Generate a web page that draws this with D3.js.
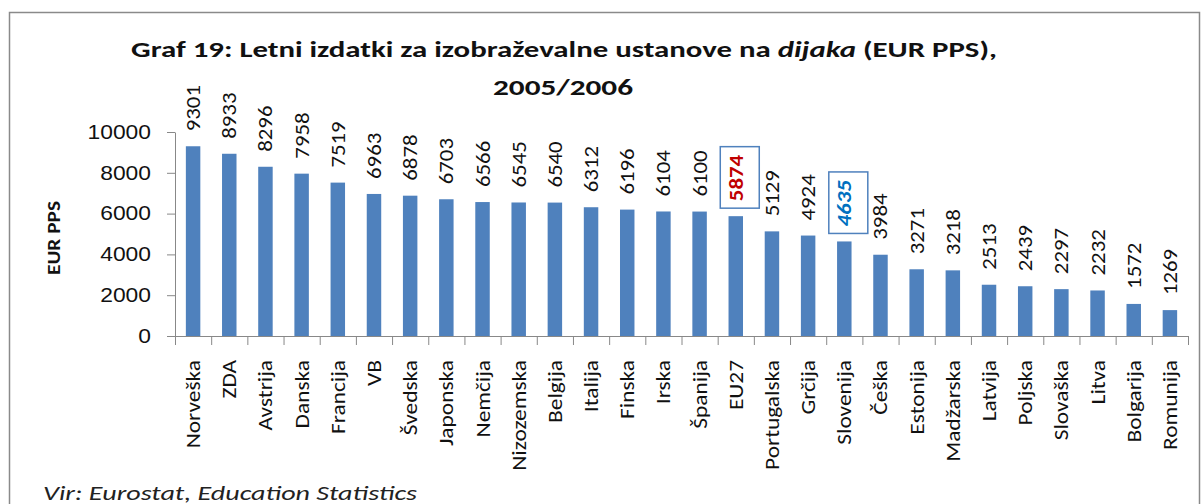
<!DOCTYPE html>
<html><head><meta charset="utf-8">
<script src="https://cdn.jsdelivr.net/npm/d3@7/dist/d3.min.js"></script>
<style>
body{margin:0;background:#fff;}
svg{display:block;font-family:Carlito, Calibri, Lato, "Open Sans", sans-serif;}
</style></head><body>
<svg id="c" width="1204" height="504"></svg>
<script>
const categories = ["Norveška","ZDA","Avstrija","Danska","Francija","VB","Švedska","Japonska","Nemčija","Nizozemska","Belgija","Italija","Finska","Irska","Španija","EU27","Portugalska","Grčija","Slovenija","Češka","Estonija","Madžarska","Latvija","Poljska","Slovaška","Litva","Bolgarija","Romunija"];
const values = [9301,8933,8296,7958,7519,6963,6878,6703,6566,6545,6540,6312,6196,6104,6100,5874,5129,4924,4635,3984,3271,3218,2513,2439,2297,2232,1572,1269];
const yTicks = [0,2000,4000,6000,8000,10000];
const highlights = {"EU27":{color:"#C00000",italic:false},"Slovenija":{color:"#0070C0",italic:true}};

const SX = 1.17; // horizontal stretch of the reference's lettering
const svg = d3.select("#c");
svg.append("rect").attr("x",9.5).attr("y",12.5).attr("width",1190).attr("height",520)
  .attr("fill","none").attr("stroke","#8a8a8a").attr("stroke-width",1.5);

const x0=175, x1=1188, yTop=132, yBot=336;
const x = d3.scaleBand().domain(categories).range([x0,x1]).paddingInner(0.6).paddingOuter(0.3);
const xb = d3.scaleBand().domain(categories).range([x0,x1]);
const y = d3.scaleLinear().domain([0,10000]).range([yBot,yTop]);

// title
const t = svg.append("text").attr("x",131).attr("y",57)
  .attr("font-weight","bold").attr("font-size",22).attr("fill","#111")
  .attr("textLength",866).attr("lengthAdjust","spacingAndGlyphs");
t.append("tspan").text("Graf 19: Letni izdatki za izobraževalne ustanove na ");
t.append("tspan").attr("font-style","italic").text("dijaka");
t.append("tspan").text(" (EUR PPS),");
svg.append("text").attr("x",493).attr("y",95)
  .attr("font-weight","bold").attr("font-size",22).attr("fill","#111")
  .attr("textLength",140).attr("lengthAdjust","spacingAndGlyphs").text("2005/2006");

// y axis
const ya = d3.axisLeft(y).tickValues(yTicks).tickFormat(d3.format("d")).tickSize(8).tickSizeOuter(0);
const gy = svg.append("g").attr("transform",`translate(${x0},0)`).call(ya);
gy.selectAll("path,line").attr("stroke","#888");
gy.selectAll("text").attr("font-size",19.5).attr("fill","#111").style("font-family","inherit")
  .attr("x",0).attr("transform",`translate(-24,0) scale(${SX},1)`);

svg.append("text").attr("transform",`translate(60,275) rotate(-90)`)
  .attr("font-weight","bold").attr("font-size",18).attr("fill","#111")
  .attr("textLength",74).attr("lengthAdjust","spacingAndGlyphs").text("EUR PPS");

// bars
svg.append("g").selectAll("rect").data(values).join("rect")
  .attr("x",(d,i)=>x(categories[i])).attr("width",x.bandwidth())
  .attr("y",d=>y(d)).attr("height",d=>yBot-y(d)).attr("fill","#4F81BD");

// x axis line & boundary ticks
svg.append("line").attr("x1",x0).attr("x2",x1).attr("y1",yBot+0.5).attr("y2",yBot+0.5).attr("stroke","#888");
const bounds = categories.map(c=>xb(c)).concat([x1]);
svg.append("g").selectAll("line").data(bounds).join("line")
  .attr("x1",d=>d+0.5).attr("x2",d=>d+0.5).attr("y1",yBot).attr("y2",yBot+9).attr("stroke","#888");

// category labels
svg.append("g").selectAll("text").data(categories).join("text")
  .attr("transform",c=>`translate(${xb(c)+xb.bandwidth()/2+7},360) rotate(-90) scale(1.2,1)`)
  .attr("text-anchor","end").attr("font-size",19.5).attr("fill","#111").text(c=>c);

// value labels
const vl = svg.append("g");
values.forEach((v,i)=>{
  const c = categories[i];
  const cx = xb(c)+xb.bandwidth()/2+7;
  const by = y(v)-15;
  const h = highlights[c];
  const tx = vl.append("text").attr("transform",`translate(${cx},${by}) rotate(-90) scale(${SX},1)`)
    .attr("font-size",19.5).attr("fill",h?h.color:"#111").text(v);
  if(h){
    tx.attr("font-weight","bold");
    if(h.italic) tx.attr("font-style","italic");
    const len = tx.node().getBBox().width*SX;
    vl.append("rect").attr("x",cx-22.5).attr("y",by-len-8).attr("width",39).attr("height",len+15)
      .attr("fill","none").attr("stroke","#4F81BD").attr("stroke-width",1.5);
  }
});

// source
svg.append("text").attr("x",43).attr("y",500).attr("font-style","italic").attr("font-size",20)
  .attr("fill","#222").attr("textLength",374).attr("lengthAdjust","spacingAndGlyphs")
  .text("Vir: Eurostat, Education Statistics");
</script></body></html>
